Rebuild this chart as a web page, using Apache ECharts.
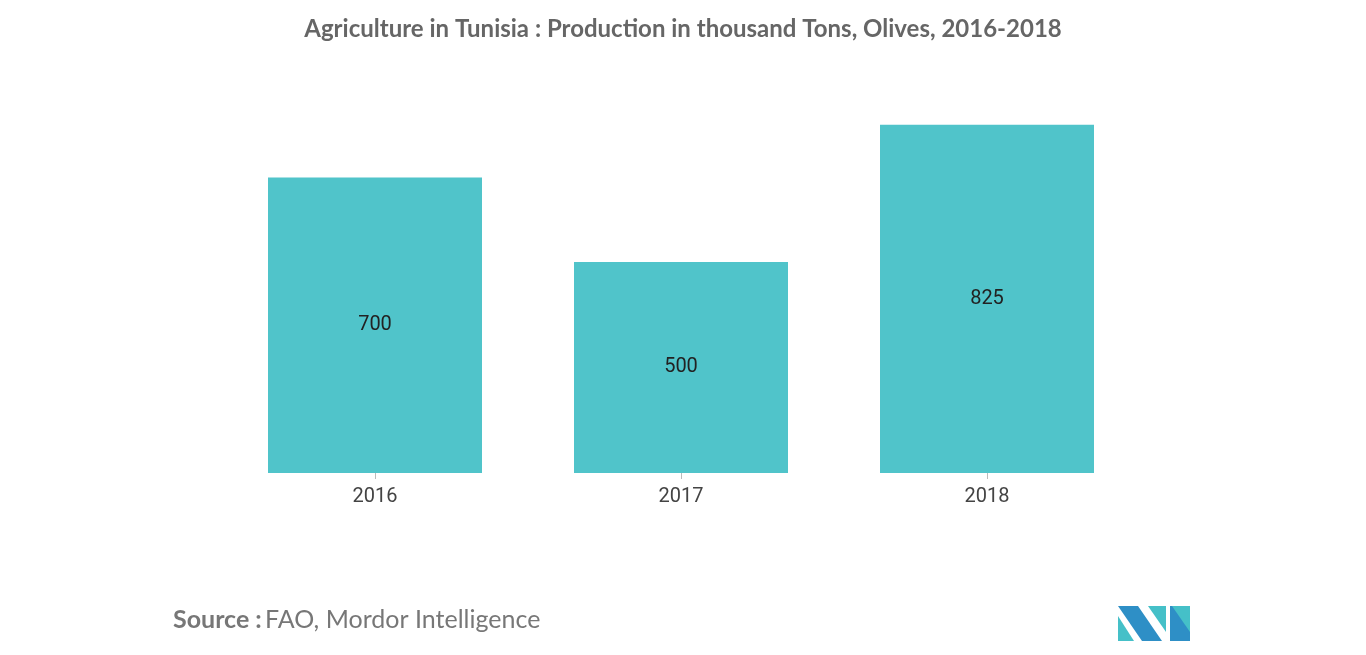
<!DOCTYPE html>
<html>
<head>
<meta charset="utf-8">
<script src="https://cdn.jsdelivr.net/npm/echarts@6/dist/echarts.min.js"></script>
<style>
    html, body { margin: 0; padding: 0; background: #fff; }
    #main { width: 1366px; height: 655px; }
</style>
</head>
<body>
<div id="main"></div>
<script>
var years = ['2016', '2017', '2018'];
var production = [700, 500, 825];

(function() {
    var myechart = echarts.init(document.getElementById('main'));
    var option = {
        title: {
            text: 'Agriculture in Tunisia : Production in thousand Tons, Olives, 2016-2018',
            left: 'center',
            top: 12,
            textStyle: { color: '#666', fontSize: 24, fontWeight: 'bold', fontFamily: 'Lato' }
        },
        grid: { left: 222, right: 226, top: 93, bottom: 182 },
        xAxis: {
            type: 'category',
            data: years,
            axisLine: { show: false },
            axisTick: { show: true, alignWithLabel: true, length: 6, lineStyle: { color: '#bbb' } },
            axisLabel: { color: '#444', fontSize: 20, margin: 14, fontFamily: 'Roboto' }
        },
        yAxis: { type: 'value', min: 0, max: 900, show: false, splitLine: { show: false } },
        series: [{
            type: 'bar',
            data: production,
            barWidth: 214,
            itemStyle: { color: '#50c4ca' },
            label: { show: true, position: 'inside', color: '#222', fontSize: 20, fontFamily: 'Roboto' }
        }],
        graphic: [
            {
                type: 'text', left: 173, top: 607,
                style: {
                    rich: {
                        b: { fontWeight: 'bold', fontSize: 25, fill: '#777', fontFamily: 'Lato' },
                        n: { fontSize: 25, fill: '#777', fontFamily: 'Lato' }
                    },
                    text: '{b|Source :} {n|FAO, Mordor Intelligence}'
                }
            },
            { type: 'polygon', shape: { points: [[1118, 606], [1138, 606], [1162, 641], [1142, 641]] }, style: { fill: '#2e8fc6' } },
            { type: 'polygon', shape: { points: [[1118, 616], [1134, 641], [1118, 641]] }, style: { fill: '#45c0c8' } },
            { type: 'polygon', shape: { points: [[1148, 606], [1166, 606], [1166, 632]] }, style: { fill: '#45c0c8' } },
            { type: 'polygon', shape: { points: [[1170, 606], [1190, 606], [1190, 641], [1170, 641], [1170, 612]] }, style: { fill: '#2e8fc6' } },
            { type: 'polygon', shape: { points: [[1172, 606], [1190, 606], [1190, 632]] }, style: { fill: '#45c0c8' } }
        ]
    };
    myechart.setOption(option);
})();
</script>
</body>
</html>
